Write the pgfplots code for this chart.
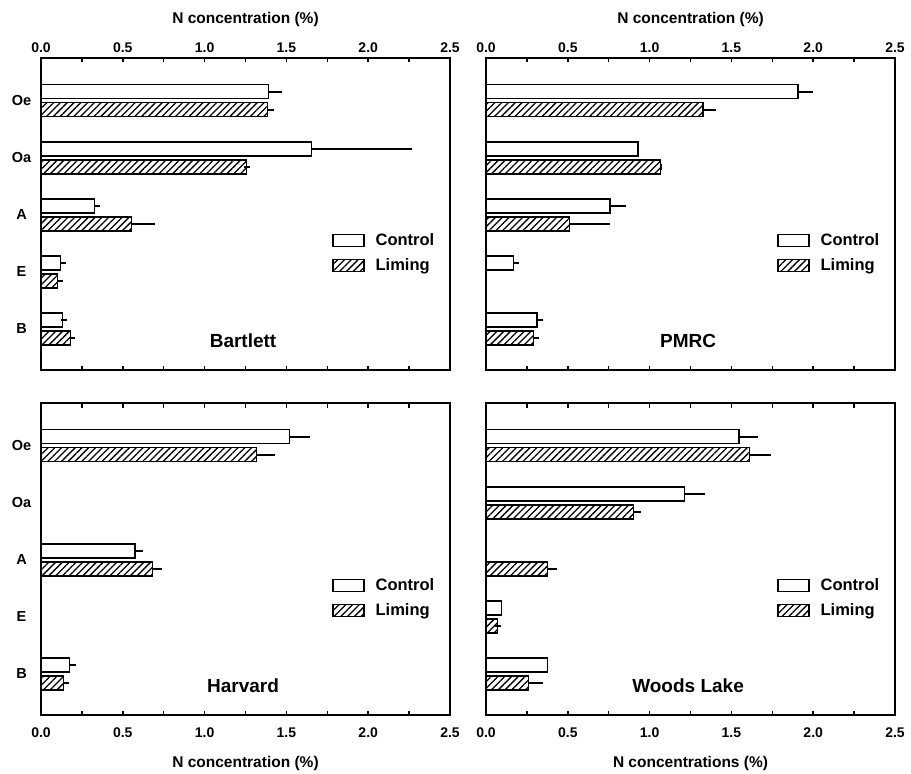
\documentclass[border=0pt]{standalone}
\usepackage{fontspec}
\setmainfont{Liberation Sans}
\usepackage{pgfplots}
\pgfplotsset{compat=1.18}
\usetikzlibrary{patterns.meta}

\pgfplotsset{
  panel/.style={
    scale only axis, width=409bp, height=312bp,
    xmin=0, xmax=2.5, ymin=-0.72, ymax=4.75,
    xtick={0,0.5,1,1.5,2,2.5},
    xticklabels={0.0,0.5,1.0,1.5,2.0,2.5},
    minor xtick={0.25,0.75,1.25,1.75,2.25},
    tick align=inside,
    major tick length=4.5bp, minor tick length=4.5bp,
    xtick style={line width=1.5bp, black},
    ytick={0,1,2,3,4},
    yticklabels={B,E,A,Oa,Oe},
    ytick style={draw=none},
    yticklabel style={anchor=center, xshift=-15bp, font=\fontsize{14.5bp}{17bp}\selectfont\bfseries},
    xticklabel style={anchor=center, font=\fontsize{14bp}{16bp}\selectfont\bfseries},
    /pgf/number format/assume math mode=true,
    label style={font=\fontsize{15.5bp}{18bp}\selectfont\bfseries},
    axis line style={line width=2bp},
    xbar, bar width=14bp,
    legend image code/.code={\draw[#1, line width=1.2bp] (0bp,-6bp) rectangle (31bp,6bp);},
    legend style={at={(0.712,0.438)}, anchor=north west, draw=none, fill=none,
      font=\fontsize{16.5bp}{19bp}\selectfont\bfseries,
      row sep=12bp, inner sep=0pt, nodes={inner sep=0pt},
      /tikz/every odd column/.style={column sep=11bp}},
    legend cell align=left,
    error bars/error bar style={line width=1.6bp, black},
    error bars/error mark options={line width=1.6bp, black, mark size=3bp},
  },
  toppanel/.style={xticklabel pos=right,
    xticklabel style={yshift=10.5bp},
    xlabel style={at={(rel axis cs:0.5,1)}, anchor=center, yshift=38.5bp}},
  botpanel/.style={
    xticklabel style={yshift=-18bp},
    xlabel style={at={(rel axis cs:0.5,0)}, anchor=center, yshift=-48bp}},
  ctrl/.style={draw=black, fill=white, line width=1.4bp, bar shift=9bp,
    error bars/.cd, x dir=plus, x explicit},
  lime/.style={draw=black, line width=1.4bp, pattern={Lines[angle=45,distance=4.8bp,line width=1.3bp]}, pattern color=black, bar shift=-9bp,
    error bars/.cd, x dir=plus, x explicit},
}
\newcommand{\ttl}[1]{\node[font=\fontsize{19bp}{22bp}\selectfont\bfseries] at (rel axis cs:0.494,0.093) {#1};}

\begin{document}
\begin{tikzpicture}[x=1bp,y=1bp]
\useasboundingbox (0,0) rectangle (911,-774);

% Bartlett
\begin{axis}[panel, toppanel, at={(41bp,-370bp)}, anchor=south west,
  xlabel={N concentration (\%)}]
\addplot[ctrl] table[x=v, y=c, x error=e] {
c v e
4 1.389 0.067
3 1.654 0.597
2 0.328 0.016
1 0.120 0.012
0 0.130 0.013
};
\addplot[lime] table[x=v, y=c, x error=e] {
c v e
4 1.383 0.020
3 1.257 0.005
2 0.552 0.124
1 0.100 0.016
0 0.181 0.009
};
\legend{Control, Liming}
\ttl{Bartlett}
\end{axis}

% PMRC
\begin{axis}[panel, toppanel, at={(486bp,-370bp)}, anchor=south west,
  xlabel={N concentration (\%)}, yticklabels={}]
\addplot[ctrl] table[x=v, y=c, x error=e] {
c v e
4 1.907 0.075
3 0.929 0.000
2 0.758 0.081
1 0.169 0.014
0 0.312 0.020
};
\addplot[lime] table[x=v, y=c, x error=e] {
c v e
4 1.326 0.063
3 1.068 0.000
2 0.509 0.230
0 0.289 0.019
};
\legend{Control, Liming}
\ttl{PMRC}
\end{axis}

% Harvard
\begin{axis}[panel, botpanel, at={(41bp,-715bp)}, anchor=south west,
  xlabel={N concentration (\%)}]
\addplot[ctrl] table[x=v, y=c, x error=e] {
c v e
4 1.518 0.108
2 0.574 0.031
0 0.173 0.021
};
\addplot[lime] table[x=v, y=c, x error=e] {
c v e
4 1.318 0.096
2 0.680 0.043
0 0.136 0.017
};
\legend{Control, Liming}
\ttl{Harvard}
\end{axis}

% Woods Lake
\begin{axis}[panel, botpanel, at={(486bp,-715bp)}, anchor=south west,
  xlabel={N concentrations (\%)}, yticklabels={}]
\addplot[ctrl] table[x=v, y=c, x error=e] {
c v e
4 1.547 0.098
3 1.214 0.106
1 0.094 0.000
0 0.375 0.000
};
\addplot[lime] table[x=v, y=c, x error=e] {
c v e
4 1.611 0.110
3 0.903 0.024
2 0.375 0.039
1 0.069 0.003
0 0.259 0.073
};
\legend{Control, Liming}
\ttl{Woods Lake}
\end{axis}
\end{tikzpicture}
\end{document}
